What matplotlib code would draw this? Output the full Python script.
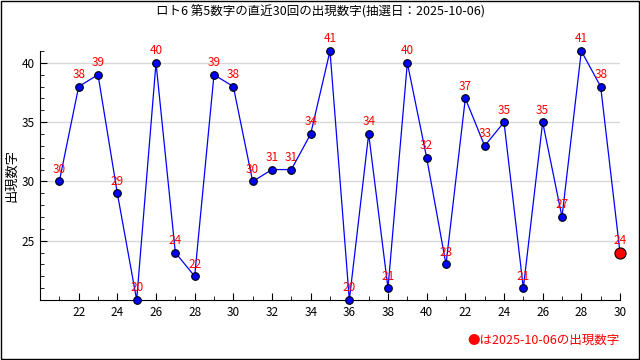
import matplotlib
matplotlib.use('Agg')
import matplotlib.pyplot as plt
from matplotlib.patches import Rectangle
from matplotlib.ticker import MultipleLocator

plt.rcParams['font.family'] = ['Noto Sans CJK JP', 'DejaVu Sans']

# DATA
positions = list(range(21, 51))
numbers = [30, 38, 39, 29, 20, 40, 24, 22, 39, 38,
           30, 31, 31, 34, 41, 20, 34, 21, 40, 32,
           23, 37, 33, 35, 21, 35, 27, 41, 38, 24]
tick_pos = list(range(22, 51, 2))
tick_labels = ['22', '24', '26', '28', '30', '32', '34', '36', '38', '40',
               '22', '24', '26', '28', '30']
y_ticks = [25, 30, 35, 40]
title = 'ロト6 第5数字の直近30回の出現数字(抽選日：2025-10-06)'
note = '●は2025-10-06の出現数字'

fig = plt.figure(figsize=(6.4, 3.6), dpi=100)
ax = fig.add_axes([40/640, 60/360, 580/640, 249/360])

ax.yaxis.grid(True, color='#d8d8d8', linewidth=1)
ax.set_axisbelow(True)
ax.plot(positions, numbers, color='blue', linewidth=0.9, zorder=2)
ax.plot(positions[:-1], numbers[:-1], 'o', color='blue', markeredgecolor='black',
        markeredgewidth=0.8, markersize=5.5, zorder=3, clip_on=False)
ax.plot(positions[-1], numbers[-1], 'o', color='red', markeredgecolor='black',
        markeredgewidth=0.8, markersize=8, zorder=3, clip_on=False)

for xx, yy in zip(positions, numbers):
    ax.annotate(str(yy), (xx, yy), xytext=(0, 4), textcoords='offset points',
                ha='center', va='bottom', color='red', fontsize=8.5, zorder=4)

ax.set_xlim(20, 50)
ax.set_ylim(20, 41)
ax.set_xticks(tick_pos)
ax.set_xticklabels(tick_labels)
ax.xaxis.set_minor_locator(MultipleLocator(1))
ax.set_yticks(y_ticks)
ax.yaxis.set_minor_locator(MultipleLocator(1))
ax.tick_params(which='major', direction='in', length=5, labelsize=8.5, pad=4)
ax.tick_params(which='minor', direction='in', length=3)
for s in ['top', 'right']:
    ax.spines[s].set_visible(False)

# y label placed by hand, left of the tick labels
fig.text(12/640, 1 - 176/360, '出現数字', rotation=90, ha='center', va='center', fontsize=9.5)

fig.text(0.5, 1 - 12/360, title, ha='center', va='center', fontsize=9)
fig.text(620/640, 1 - 340/360, note, ha='right', va='center', color='red', fontsize=9)

fig.patches.append(Rectangle((0.001, 0.002), 0.997, 0.996, transform=fig.transFigure,
                             fill=False, edgecolor='black', linewidth=1.0))

fig.savefig('out.png', dpi=100)
